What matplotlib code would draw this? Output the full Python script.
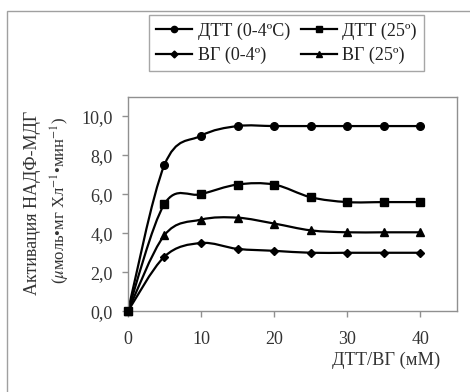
import matplotlib.pyplot as plt
from matplotlib.path import Path
from matplotlib.patches import PathPatch, Rectangle
from matplotlib.lines import Line2D

plt.rcParams['font.family'] = ['Liberation Serif', 'DejaVu Serif']
plt.rcParams['mathtext.fontset'] = 'stix'

conc = [0, 5, 10, 15, 20, 25, 30, 35, 40]
dtt_cold = [0, 7.5, 9.0, 9.5, 9.5, 9.5, 9.5, 9.5, 9.5]
dtt_warm = [0, 5.5, 6.0, 6.5, 6.5, 5.85, 5.6, 5.6, 5.6]
vg_cold = [0, 2.8, 3.5, 3.2, 3.1, 3.0, 3.0, 3.0, 3.0]
vg_warm = [0, 3.9, 4.7, 4.8, 4.5, 4.15, 4.05, 4.05, 4.05]

yticks = [0, 2, 4, 6, 8, 10]
xticks = [0, 10, 20, 30, 40]

series = [
    ("ДТТ (0-4ºC)", dtt_cold, "o", 5.5),
    ("ВГ (0-4º)", vg_cold, "D", 4.5),
    ("ДТТ (25º)", dtt_warm, "s", 5.5),
    ("ВГ (25º)", vg_warm, "^", 6),
]


def smooth_path(x, y):
    # Excel-like smoothed line: cubic Bezier segments through the points
    verts = [(x[0], y[0])]
    codes = [Path.MOVETO]
    n = len(x)
    for i in range(n - 1):
        x0, y0 = (x[i - 1], y[i - 1]) if i > 0 else (x[i], y[i])
        x3, y3 = (x[i + 2], y[i + 2]) if i + 2 < n else (x[i + 1], y[i + 1])
        c1 = (x[i] + (x[i + 1] - x0) / 6, y[i] + (y[i + 1] - y0) / 6)
        c2 = (x[i + 1] - (x3 - x[i]) / 6, y[i + 1] - (y3 - y[i]) / 6)
        verts += [c1, c2, (x[i + 1], y[i + 1])]
        codes += [Path.CURVE4] * 3
    return Path(verts, codes)


fig = plt.figure(figsize=(4.7, 3.92), dpi=100)
fig.patches.append(Rectangle((7 / 470, -0.1), 1.2, 1 - 11 / 392 + 0.1,
                             transform=fig.transFigure, fill=False,
                             edgecolor="#a0a0a0", linewidth=1.0))

ax = fig.add_axes([0.272, 0.206, 0.700, 0.547])

handles = []
for label, vals, mk, ms in series:
    ax.add_patch(PathPatch(smooth_path(conc, vals), fill=False,
                           edgecolor="black", linewidth=1.6, zorder=2))
    ax.plot(conc, vals, linestyle="none", marker=mk, markersize=ms,
            color="black", zorder=3, clip_on=False)
    handles.append(Line2D([], [], color="black", linewidth=1.6,
                          marker=mk, markersize=ms - 1))

ax.set_xlim(0, 45)
ax.set_ylim(0, 11)
ax.set_xticks(xticks)
ax.set_yticks(yticks)
ax.set_yticklabels([f"{v:.1f}".replace(".", ",") for v in yticks])
for s in ax.spines.values():
    s.set_color("#909090")
    s.set_linewidth(1.0)
ax.tick_params(axis="both", colors="#909090", width=1,
               labelcolor="#333333", labelsize=13)
ax.tick_params(axis="x", length=4, pad=10)
ax.tick_params(axis="y", length=4.5, pad=6.5)

ax.set_xlabel("ДТТ/ВГ (мМ)", fontsize=13.2, color="#333333")
ax.xaxis.set_label_coords(0.948, -0.19)
ax.xaxis.label.set_horizontalalignment("right")

fig.text(33 / 470, 1 - 203 / 392, "Активация НАДФ-МДГ", rotation=90,
         ha="center", va="center", fontsize=13, color="#333333")
fig.text(60 / 470, 1 - 200 / 392,
         r"($\mu$моль•мг Хл$^{-1}$•мин$^{-1}$)", rotation=90,
         ha="center", va="center", fontsize=12, color="#333333")

leg = fig.legend(handles, [s[0] for s in series], ncol=2,
                 loc="upper left", bbox_to_anchor=(149 / 470, 1 - 15 / 392),
                 frameon=True, fancybox=False, fontsize=13,
                 handlelength=2.0, handletextpad=0.3, columnspacing=0.6,
                 borderpad=0.4, labelspacing=0.4, borderaxespad=0)
leg.get_frame().set_edgecolor("#909090")
leg.get_frame().set_linewidth(1.0)
for t in leg.get_texts():
    t.set_color("#222222")

fig.savefig("out.png", dpi=100)
